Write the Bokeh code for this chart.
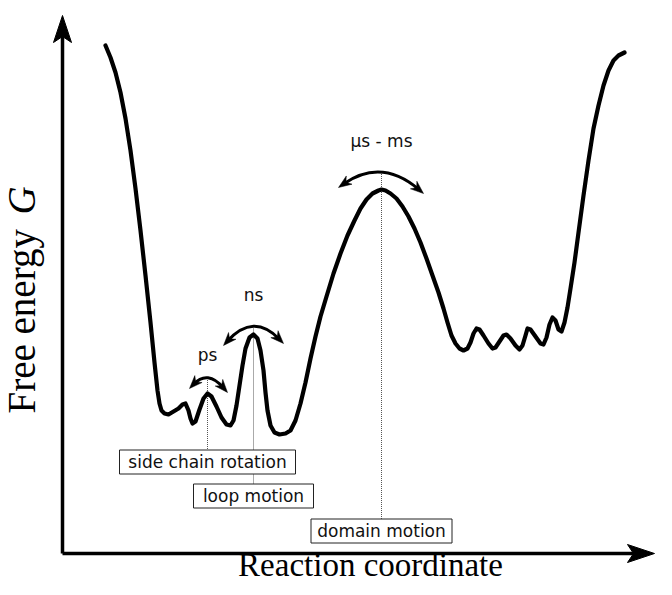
import math
from bokeh.plotting import figure
from bokeh.models import Range1d
from bokeh.core.properties import value
from bokeh.embed import file_html
from bokeh.resources import INLINE

# ---- data ----------------------------------------------------------------
# free-energy trace along the reaction coordinate
reaction_coord = [105, 110, 115, 120, 125, 130, 135, 140, 145, 150, 154, 157, 159, 161, 164,
                  168, 173, 178, 182, 185, 188, 190, 192, 195, 199, 203, 207, 211, 216, 221,
                  226, 230, 233, 236, 239, 242, 245, 249, 253, 257, 260, 263, 265, 267, 270,
                  274, 279, 285, 290, 295, 300, 305, 310, 315, 320, 326, 333, 340, 347, 354,
                  360, 366, 372, 378, 381, 385, 390, 396, 402, 408, 414, 420, 426, 432, 438,
                  443, 447, 451, 455, 459, 463, 467, 470, 473, 476, 479, 483, 488, 492, 495,
                  499, 503, 506, 510, 515, 519, 522, 525, 527, 530, 535, 540, 543, 546, 549,
                  552, 555, 558, 561, 564, 567, 570, 574, 578, 583, 588, 593, 598, 603, 608,
                  613, 618, 624]
free_energy = [550, 538, 523, 503, 477, 445, 407, 365, 320, 273, 233, 205, 192, 185, 182,
               181, 184, 187, 191, 192, 185, 177, 172, 174, 186, 197, 202, 199, 189, 178,
               171, 170, 175, 190, 210, 230, 247, 258, 261, 257, 245, 225, 203, 185, 170,
               163, 161, 162, 165, 175, 192, 213, 237, 259, 279, 299, 322, 342, 360, 375,
               387, 396, 402, 405, 406, 405, 402, 397, 389, 379, 367, 353, 337, 320, 303,
               287, 273, 260, 252, 247, 245, 247, 253, 262, 267, 266, 260, 252, 247, 248,
               254, 260, 261, 257, 250, 246, 250, 260, 267, 266, 259, 252, 251, 258, 271,
               278, 275, 266, 264, 273, 288, 307, 333, 363, 400, 435, 467, 490, 510, 525,
               535, 540, 543]

# barriers: time scale, motion, position of the barrier top
timescales = ["ps", "ns", "\u00b5s - ms"]
motions = ["side chain rotation", "loop motion", "domain motion"]
barrier_x = [207, 253, 381]
barrier_top = [202, 261, 406]
# double-headed arcs above each barrier: left end, right end, control height
arc_left = [(189, 207), (223, 250), (338, 408)]
arc_right = [(227, 203), (283, 252), (423, 402)]
arc_apex = [226, 283, 438]

# ---- layout / style ------------------------------------------------------
W, H = 656, 579
TOP = 595                            # reference coordinate of the top edge
label_y = [241, 301, 455]            # baselines of the timescale texts
box_y = [133.5, 99.5, 64.5]          # box centres
box_w = [176, 120, 141]
box_h = 24
origin = (62, 42)
x_tip = 654
y_tip = 580

p = figure(width=W, height=H, x_range=Range1d(0, W), y_range=Range1d(TOP - H, TOP),
           output_backend="svg", toolbar_location=None, min_border=0,
           x_axis_type=None, y_axis_type=None)
p.grid.visible = False
p.outline_line_color = None
p.background_fill_color = "white"
p.border_fill_color = "white"


def vee(tip, u, length, width, notch):
    ux, uy = u
    n = math.hypot(ux, uy)
    ux, uy = ux / n, uy / n
    px, py = -uy, ux
    bx, by = tip[0] - ux * length, tip[1] - uy * length
    nx, ny = tip[0] - ux * (length - notch), tip[1] - uy * (length - notch)
    xs = [tip[0], bx + px * width / 2, nx, bx - px * width / 2]
    ys = [tip[1], by + py * width / 2, ny, by - py * width / 2]
    return xs, ys


# dotted guide lines (from arc apex down to the box top)
for i, bx in enumerate(barrier_x):
    l, r = arc_left[i], arc_right[i]
    apex_y = 0.25 * l[1] + 0.5 * arc_apex[i] + 0.25 * r[1]
    p.line([bx, bx], [apex_y, box_y[i] + box_h / 2], line_color="#555555",
           line_width=1, line_dash="1 1")

# axes with arrow heads
p.line([origin[0], origin[0]], [origin[1], y_tip - 14], line_color="black", line_width=3.5)
p.line([origin[0], x_tip - 14], [origin[1], origin[1]], line_color="black", line_width=3.5)
hx, hy = vee((origin[0], y_tip), (0, 1), 27, 18, 6)
p.patch(hx, hy, fill_color="black", line_color="black", line_width=1)
hx, hy = vee((x_tip, origin[1]), (1, 0), 27, 18, 6)
p.patch(hx, hy, fill_color="black", line_color="black", line_width=1)

# energy landscape
p.line(reaction_coord, free_energy, line_color="black", line_width=4.2,
       line_join="round", line_cap="round")

# double-headed arcs
for i in range(3):
    l, r = arc_left[i], arc_right[i]
    cx, cy = barrier_x[i], arc_apex[i]
    ends = []
    for (tx, ty) in (l, r):
        ux, uy = tx - cx, ty - cy
        n = math.hypot(ux, uy)
        ux, uy = ux / n, uy / n
        ends.append((tx - ux * 6, ty - uy * 6))
        hx, hy = vee((tx, ty), (ux, uy), 13, 10, 4)
        p.patch(hx, hy, fill_color="black", line_color="black", line_width=0.5)
    p.quadratic(x0=[ends[0][0]], y0=[ends[0][1]], x1=[ends[1][0]], y1=[ends[1][1]],
                cx=[cx], cy=[cy], line_color="black", line_width=3)

# timescale labels
p.text(x=barrier_x, y=label_y, text=timescales, text_font=value("DejaVu Sans"),
       text_font_size="17px", text_align="center", text_baseline="alphabetic",
       text_color="#111111")

# motion boxes
p.rect(x=barrier_x, y=box_y, width=box_w, height=box_h, fill_color="white",
       line_color="#222222", line_width=1)
p.text(x=barrier_x, y=box_y, text=motions, text_font=value("DejaVu Sans"),
       text_font_size="17px", text_align="center", text_baseline="middle",
       text_color="#111111")

# axis titles
p.text(x=[370], y=[TOP - 564], text=["Reaction coordinate"],
       text_font=value("Liberation Serif"), text_font_size="33px",
       text_align="center", text_baseline="alphabetic", text_color="black")
p.text(x=[21], y=[TOP - 413], text=["Free energy"], angle=math.pi / 2,
       text_font=value("Liberation Serif"), text_font_size="39px",
       text_align="left", text_baseline="alphabetic", text_color="black")
p.text(x=[21], y=[TOP - 214], text=["G"], angle=math.pi / 2,
       text_font=value("Liberation Serif"), text_font_style="italic",
       text_font_size="39px", text_align="left", text_baseline="alphabetic",
       text_color="black")

open("out.html", "w").write(file_html(p, INLINE))
